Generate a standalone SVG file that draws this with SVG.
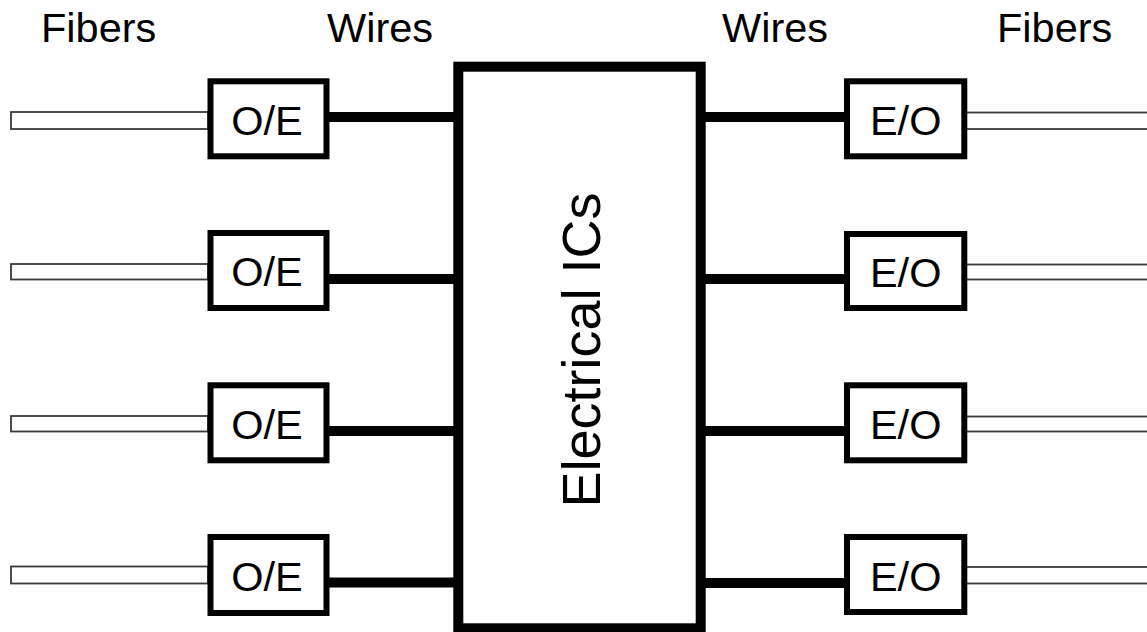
<svg xmlns="http://www.w3.org/2000/svg" width="1147" height="632" viewBox="0 0 1147 632">
<style>
  text { font-family: "Liberation Sans", Arial, sans-serif; fill: #000; }
  .hdr { font-size: 41.5px; }
  .lbl { font-size: 41.5px; text-anchor: middle; }
  .conv { fill: #fff; stroke: #000; stroke-width: 6; }
  .fiber { fill: #fff; stroke: #3a3a3a; stroke-width: 1.8; }
  .wire { stroke: #000; stroke-width: 10; fill: none; }
  .main { fill: #fff; stroke: #000; stroke-width: 10; }
</style>
<rect width="1147" height="632" fill="#fff"/>
<g id="headers">
  <text class="hdr" x="41" y="42">Fibers</text>
  <text class="hdr" x="327" y="42">Wires</text>
  <text class="hdr" x="722" y="42">Wires</text>
  <text class="hdr" x="997" y="42">Fibers</text>
</g>
<g id="connectors">
  <rect class="fiber" x="11" y="112" width="197" height="17"/>
  <rect class="fiber" x="11" y="264" width="197" height="15.5"/>
  <rect class="fiber" x="11" y="416" width="197" height="15.5"/>
  <rect class="fiber" x="11" y="566.5" width="197" height="17"/>
  <rect class="fiber" x="966" y="112.5" width="200" height="16.5"/>
  <rect class="fiber" x="966" y="264.5" width="200" height="15"/>
  <rect class="fiber" x="966" y="416.5" width="200" height="15"/>
  <rect class="fiber" x="966" y="567" width="200" height="16.5"/>
  <line class="wire" x1="329" y1="117" x2="456" y2="117"/>
  <line class="wire" x1="329" y1="279" x2="456" y2="279"/>
  <line class="wire" x1="329" y1="431" x2="456" y2="431"/>
  <line class="wire" x1="329" y1="582.5" x2="456" y2="582.5"/>
  <line class="wire" x1="703" y1="117" x2="845" y2="117"/>
  <line class="wire" x1="703" y1="279" x2="845" y2="279"/>
  <line class="wire" x1="703" y1="431" x2="845" y2="431"/>
  <line class="wire" x1="703" y1="583" x2="845" y2="583"/>
</g>
<g id="electrical-ics">
  <rect class="main" x="458.3" y="66.7" width="242.4" height="561.6"/>
  <text x="600" y="350" font-size="54" text-anchor="middle" transform="rotate(-90 600 350)">Electrical ICs</text>
</g>
<g id="oe1"><rect class="conv" x="210.5" y="81.3" width="116" height="75"/><text class="lbl" x="267" y="134.5">O/E</text></g>
<g id="oe2"><rect class="conv" x="210.5" y="233" width="116" height="75"/><text class="lbl" x="267" y="286">O/E</text></g>
<g id="oe3"><rect class="conv" x="210.5" y="385.3" width="116" height="75"/><text class="lbl" x="267" y="438.5">O/E</text></g>
<g id="oe4"><rect class="conv" x="210.5" y="537" width="116" height="76"/><text class="lbl" x="267" y="590.5">O/E</text></g>
<g id="eo1"><rect class="conv" x="847" y="81.3" width="117.3" height="75"/><text class="lbl" x="905.7" y="135">E/O</text></g>
<g id="eo2"><rect class="conv" x="847" y="234" width="117.3" height="74"/><text class="lbl" x="905.7" y="286.5">E/O</text></g>
<g id="eo3"><rect class="conv" x="847" y="385.3" width="117.3" height="75"/><text class="lbl" x="905.7" y="438.5">E/O</text></g>
<g id="eo4"><rect class="conv" x="847" y="537" width="117.3" height="75"/><text class="lbl" x="905.7" y="590.5">E/O</text></g>
</svg>
